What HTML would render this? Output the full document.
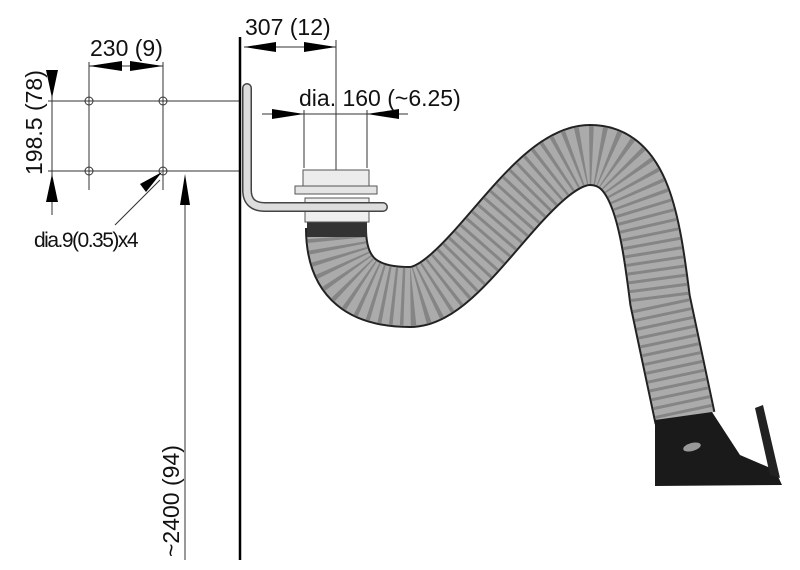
<!DOCTYPE html>
<html><head><style>body{margin:0;background:#fff}svg{display:block}text{font-family:"Liberation Sans",sans-serif;fill:#111}</style></head><body>
<svg width="800" height="570" viewBox="0 0 800 570" xmlns="http://www.w3.org/2000/svg">
<g stroke="#333" stroke-width="1" fill="none">
<line x1="48" y1="101" x2="240" y2="101"/><line x1="48" y1="171" x2="240" y2="171"/>
<line x1="89" y1="62" x2="89" y2="190"/><line x1="163" y1="62" x2="163" y2="190"/>
<circle cx="89" cy="101" r="4"/><circle cx="163" cy="101" r="4"/><circle cx="89" cy="171" r="4"/><circle cx="163" cy="171" r="4"/>
<line x1="52" y1="70" x2="52" y2="215"/>
<line x1="185" y1="190" x2="185" y2="560"/>
<line x1="89" y1="66" x2="163" y2="66"/>
<line x1="244" y1="47" x2="336" y2="47"/><line x1="336" y1="40" x2="336" y2="170"/>
<line x1="262" y1="114" x2="408" y2="114"/><line x1="304" y1="110" x2="304" y2="168"/><line x1="367" y1="110" x2="367" y2="168"/>
<line x1="115" y1="225" x2="160" y2="180"/>
</g>
<g fill="#000">
<polygon points="89,66 122,61 122,71"/><polygon points="163,66 130,61 130,71"/>
<polygon points="46,70 58,70 52,98"/><polygon points="46,202 58,202 52,174"/>
<polygon points="180,205 190,205 185,174"/>
<polygon points="244,47 276,42 276,52"/><polygon points="336,47 304,42 304,52"/>
<polygon points="304,114 272,109 272,119"/><polygon points="367,114 399,109 399,119"/>
<polygon points="162,172 146,192 140,184"/>
</g>
<line x1="240" y1="37" x2="240" y2="560" stroke="#000" stroke-width="2.5"/>
<text x="90" y="56" font-size="23">230 (9)</text>
<text x="245" y="35" font-size="23">307 (12)</text>
<text x="299" y="106" font-size="23">dia. 160 (~6.25)</text>
<text x="34" y="247" font-size="21" letter-spacing="-1.5">dia.9(0.35)x4</text>
<text transform="translate(42,175) rotate(-90)" font-size="23">198.5 (78)</text>
<text transform="translate(179,557) rotate(-90)" font-size="23">~2400 (94)</text>
<path d="M336,228 C336,280 365,297 410,297 C465,297 530,155 590,155 C640,155 650,220 660,300 L685,418" stroke="#222" stroke-width="62" fill="none"/>
<path d="M336,228 C336,280 365,297 410,297 C465,297 530,155 590,155 C640,155 650,220 660,300 L685,418" stroke="#ababab" stroke-width="58" fill="none"/>
<path d="M336,228 C336,280 365,297 410,297 C465,297 530,155 590,155 C640,155 650,220 660,300 L685,418" stroke="#858585" stroke-width="58" stroke-dasharray="3 6" fill="none"/>
<rect x="307" y="222" width="60" height="15" fill="#333"/>
<rect x="305" y="198" width="64" height="24" fill="#eee" stroke="#555"/>
<rect x="303" y="170" width="66" height="20" fill="#ececec" stroke="#555"/>
<rect x="295" y="186" width="82" height="8" fill="#e4e4e4" stroke="#555"/>
<path d="M247,88 L247,190 Q247,207 265,207 L383,207" stroke="#444" stroke-width="10" fill="none" stroke-linecap="round"/>
<path d="M247,88 L247,190 Q247,207 265,207 L383,207" stroke="#ddd" stroke-width="7" fill="none" stroke-linecap="round"/>
<polygon points="655,420 712,412 740,455 775,470 782,485 655,486" fill="#1a1a1a"/>
<polygon points="755,408 763,405 780,478 770,475" fill="#222"/>
<ellipse cx="692" cy="447" rx="9" ry="4" fill="#999" transform="rotate(-15 692 447)"/>
</svg>
</body></html>
